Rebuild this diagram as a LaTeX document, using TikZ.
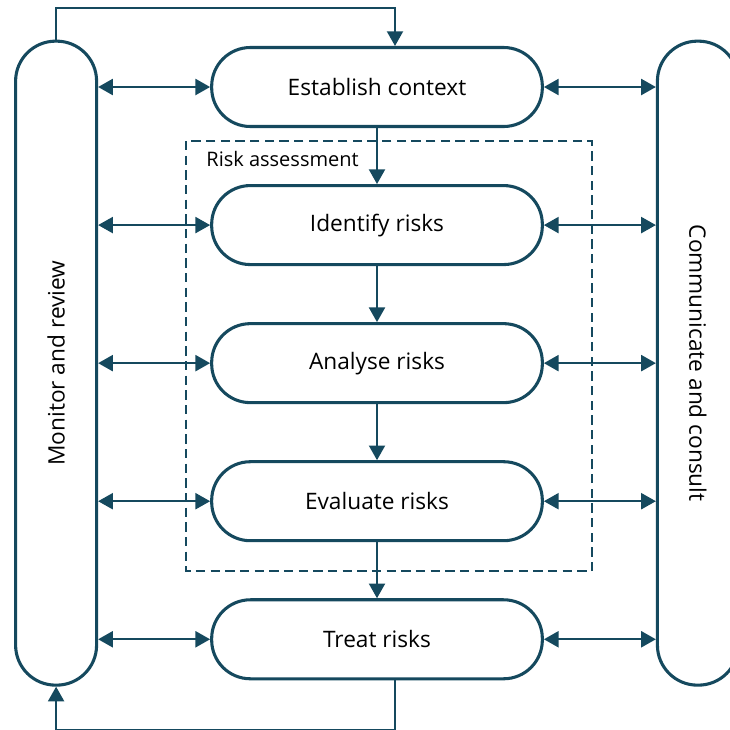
\documentclass[tikz,border=0pt]{standalone}
\usepackage{fontspec}
\setmainfont{Open Sans}
\usepackage{tikz}
\usetikzlibrary{arrows.meta,positioning,calc}
\definecolor{riskteal}{RGB}{21,73,94}

\begin{document}
\begin{tikzpicture}[
    x=0.75pt, y=-0.75pt,
    node distance=42pt and 84pt,
    stage/.style={draw=riskteal, line width=2.3pt, rounded corners=29pt, fill=white,
      minimum width=248pt, minimum height=59.25pt, inner sep=0pt, font=\fontsize{17}{20}\selectfont},
    side/.style={draw=riskteal, line width=2.3pt, rounded corners=30pt, fill=white,
      minimum width=60.75pt, minimum height=483pt, inner sep=0pt, font=\fontsize{17}{20}\selectfont},
    arr/.style={-{Triangle[length=11pt,width=12pt]}, line width=1.5pt, draw=riskteal},
    twoway/.style={{Triangle[length=11pt,width=12pt]}-{Triangle[length=11pt,width=12pt]}, line width=1.5pt, draw=riskteal}
  ]
    \path[use as bounding box, clip] (0,0) rectangle (730,729);
    \node[stage] (establish) at (377,87) {Establish context};
    \node[stage, below=of establish] (identify) {Identify risks};
    \node[stage, below=of identify] (analyse) {Analyse risks};
    \node[stage, below=of analyse] (evaluate) {Evaluate risks};
    \node[stage, below=of evaluate] (treat) {Treat risks};
    \node[side, left=of analyse] (monitor) {\rotatebox{90}{Monitor and review}};
    \node[side, right=of analyse] (consult) {\rotatebox{-90}{Communicate and consult}};
    % risk assessment frame
    \draw[riskteal, line width=1.3pt, dash pattern=on 7pt off 4pt]
      ($(identify.north west)+(-24,-43)$) coordinate (frame) rectangle ($(evaluate.south east)+(48,29)$);
    \node[anchor=west, font=\fontsize{15}{18}\selectfont, inner sep=0pt] (assess) at ($(frame)+(20,18)$) {Risk assessment};
    \foreach \s in {establish,identify,analyse,evaluate,treat} {
      \draw[twoway] (monitor.east |- \s) -- (\s);
      \draw[twoway] (\s) -- (consult.west |- \s);
    }
    \draw[arr] (establish) -- (identify);
    \draw[arr] (identify) -- (analyse);
    \draw[arr] (analyse) -- (evaluate);
    \draw[arr] (evaluate) -- (treat);
    \coordinate (topin) at ($(establish.north)+(18,0)$);
    \coordinate (botout) at ($(treat.south)+(18,0)$);
    \draw[arr] (monitor.north) -- ++(0,-32) -| (topin);
    \draw[arr] (botout) -- ++(0,49.5) -| (monitor.south);
  \end{tikzpicture}
\end{document}
